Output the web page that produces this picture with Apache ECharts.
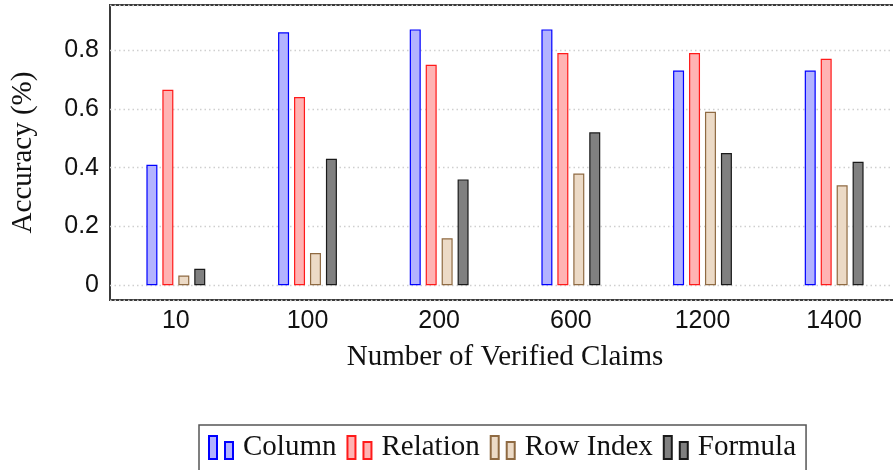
<!DOCTYPE html>
<html>
<head>
<meta charset="utf-8">
<style>
  html, body { margin: 0; padding: 0; background: #fff; }
  #chart { width: 893px; height: 470px; }
</style>
<script src="https://cdn.jsdelivr.net/npm/echarts@6/dist/echarts.min.js"></script>
</head>
<body>
<div id="chart"></div>
<script>
// claims counts on the x axis
const claimCounts = ['10', '100', '200', '600', '1200', '1400']

// accuracy per method
const columnAcc = [0.41, 0.86, 0.87, 0.87, 0.73, 0.73]
const relationAcc = [0.665, 0.64, 0.75, 0.79, 0.79, 0.77]
const rowIndexAcc = [0.033, 0.11, 0.16, 0.38, 0.59, 0.34]
const formulaAcc = [0.056, 0.43, 0.36, 0.52, 0.45, 0.42]

const serifFont = '"Liberation Serif", "Times New Roman", serif'
const sansFont = '"Liberation Sans", Arial, sans-serif'

// two-bar glyph like the pgfplots ybar legend
const legendIcon = 'path://M0,0H8V23H0Z M16,6H24V23H16Z'

const makeSeries = (name, data, fill, border) => ({
  name: name,
  type: 'bar',
  data: data,
  barWidth: 11,
  barGap: '45%',
  itemStyle: {
    color: fill,
    borderColor: border,
    borderWidth: 1.2,
  },
})

const chart = echarts.init(document.getElementById('chart'))

const option = {
  animation: false,
  backgroundColor: '#fff',
  grid: {
    left: 110,
    right: -7,
    top: 5,
    bottom: 170,
    show: true,
    borderColor: '#3a3a3a',
    borderWidth: 2,
    outerBoundsMode: 'none',
  },
  legend: {
    left: 199,
    top: 425,
    padding: [8, 10, 20, 9],
    borderColor: '#555',
    borderWidth: 1.5,
    itemWidth: 24,
    itemHeight: 23,
    itemGap: 10,
    icon: legendIcon,
    textStyle: {
      fontFamily: serifFont,
      fontSize: 29,
      color: '#111',
      lineHeight: 23,
      padding: [2, 0, 0, 5],
    },
  },
  xAxis: {
    type: 'category',
    data: claimCounts,
    boundaryGap: true,
    axisLine: { show: false },
    axisTick: { show: false },
    axisLabel: {
      fontFamily: sansFont,
      fontSize: 25,
      color: '#111',
      margin: 9,
    },
    name: 'Number of Verified Claims',
    nameLocation: 'middle',
    nameGap: 43,
    nameTextStyle: {
      fontFamily: serifFont,
      fontSize: 29,
      color: '#111',
    },
  },
  yAxis: {
    type: 'value',
    min: -0.05,
    max: 0.953,
    splitNumber: 5,
    axisLine: { show: false },
    axisTick: { show: false },
    axisLabel: {
      fontFamily: sansFont,
      fontSize: 25,
      color: '#111',
      margin: 11,
      showMinLabel: false,
      showMaxLabel: false,
    },
    splitLine: {
      show: true,
      lineStyle: {
        color: '#cfcfcf',
        width: 1.3,
        type: [1.5, 3],
      },
    },
    name: 'Accuracy (%)',
    nameLocation: 'middle',
    nameGap: 72,
    nameTextStyle: {
      fontFamily: serifFont,
      fontSize: 29,
      color: '#111',
    },
  },
  series: [
    makeSeries('Column', columnAcc, '#b3b3ff', '#0000ff'),
    makeSeries('Relation', relationAcc, '#ffb3b3', '#ff1a1a'),
    makeSeries('Row Index', rowIndexAcc, '#ecdac6', '#8f6a42'),
    makeSeries('Formula', formulaAcc, '#808080', '#1a1a1a'),
  ],
}

chart.setOption(option)
</script>
</body>
</html>
